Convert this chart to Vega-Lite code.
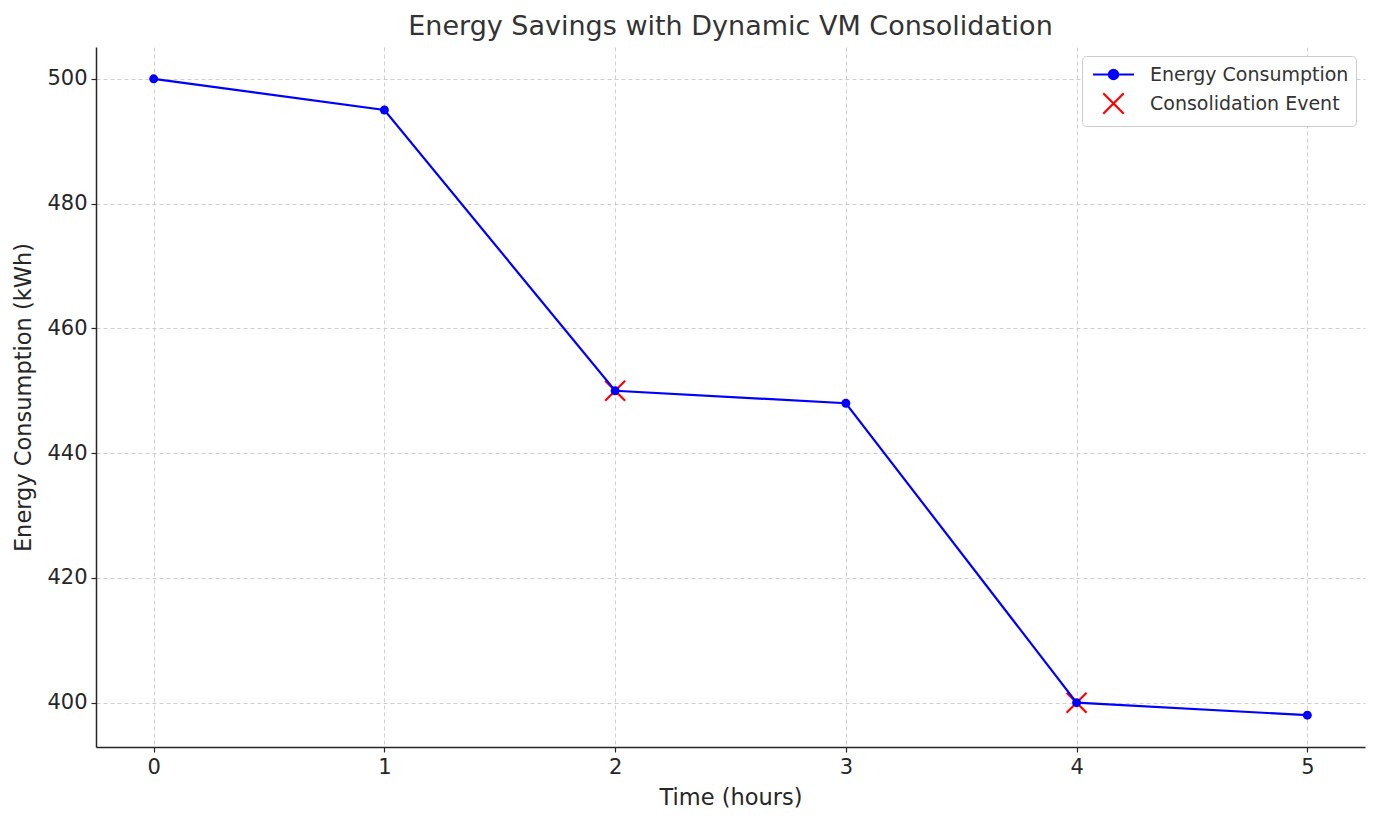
{
  "$schema": "https://vega.github.io/schema/vega-lite/v6.json",
  "width": 1269,
  "height": 700,
  "autosize": {"type": "none"},
  "padding": {"left": 96, "top": 47, "right": 13, "bottom": 75},
  "background": "white",
  "config": {
    "font": "DejaVu Sans",
    "view": {"stroke": null},
    "axis": {
      "labelFont": "DejaVu Sans",
      "titleFont": "DejaVu Sans",
      "labelFontSize": 21,
      "titleFontSize": 22.5,
      "labelColor": "#262626",
      "titleColor": "#262626",
      "titleFontWeight": "normal",
      "domainColor": "#262626",
      "domainWidth": 1.5,
      "tickColor": "#262626",
      "tickWidth": 1.2,
      "tickSize": 5,
      "gridColor": "#c8c8c8",
      "gridDash": [4, 3],
      "gridWidth": 0.9
    }
  },
  "title": {
    "text": "Energy Savings with Dynamic VM Consolidation",
    "font": "DejaVu Sans",
    "fontSize": 27,
    "fontWeight": "normal",
    "color": "#333333",
    "offset": 6
  },
  "data": {
    "values": [
      {"time": 0, "energy": 500, "series": "Energy Consumption"},
      {"time": 1, "energy": 495, "series": "Energy Consumption"},
      {"time": 2, "energy": 450, "series": "Energy Consumption"},
      {"time": 3, "energy": 448, "series": "Energy Consumption"},
      {"time": 4, "energy": 400, "series": "Energy Consumption"},
      {"time": 5, "energy": 398, "series": "Energy Consumption"},
      {"time": 2, "energy": 450, "series": "Consolidation Event"},
      {"time": 4, "energy": 400, "series": "Consolidation Event"}
    ]
  },
  "encoding": {
    "x": {
      "field": "time",
      "type": "quantitative",
      "scale": {"domain": [-0.25, 5.25], "nice": false, "zero": false},
      "axis": {"values": [0, 1, 2, 3, 4, 5], "title": "Time (hours)", "grid": true, "labelPadding": 4, "titlePadding": 9, "format": "d"}
    },
    "y": {
      "field": "energy",
      "type": "quantitative",
      "scale": {"domain": [392.9, 505.1], "nice": false, "zero": false},
      "axis": {"values": [400, 420, 440, 460, 480, 500], "title": "Energy Consumption (kWh)", "grid": true, "labelPadding": 4, "titlePadding": 11}
    }
  },
  "layer": [
    {
      "transform": [{"filter": "datum.series === 'Consolidation Event'"}],
      "mark": {"type": "point", "filled": false, "strokeWidth": 2.2, "size": 400, "opacity": 1},
      "encoding": {
        "color": {
          "field": "series",
          "type": "nominal",
          "scale": {"domain": ["Energy Consumption", "Consolidation Event"], "range": ["#0000ff", "#ff0000"]},
          "legend": {
            "title": null,
            "orient": "top-right",
            "offset": 9,
            "fillColor": "white",
            "strokeColor": "#cccccc",
            "cornerRadius": 4,
            "padding": 7,
            "symbolOffset": 13,
            "labelFont": "DejaVu Sans",
            "labelFontSize": 19,
            "labelColor": "#333333",
            "labelOffset": 25,
            "labelLimit": 400,
            "rowPadding": 3,
            "symbolSize": 420,
            "symbolStrokeWidth": 2.2,
            "encode": {
              "symbols": {
                "update": {
                  "size": {"value": 420},
                  "stroke": {"scale": "color", "field": "value"},
                  "fill": {"scale": "color", "field": "value"},
                  "strokeWidth": {"value": 2.2},
                  "opacity": {"value": 1}
                }
              }
            }
          }
        },
        "shape": {
          "field": "series",
          "type": "nominal",
          "scale": {"domain": ["Energy Consumption", "Consolidation Event"], "range": ["M-2,0H2M-0.45,0A0.45,0.45 0 1,0 0.45,0A0.45,0.45 0 1,0 -0.45,0", "M-1,-1L1,1M-1,1L1,-1"]}
        }
      }
    },
    {
      "transform": [{"filter": "datum.series === 'Energy Consumption'"}],
      "mark": {"type": "line", "color": "#0000ff", "strokeWidth": 2.2}
    },
    {
      "transform": [{"filter": "datum.series === 'Energy Consumption'"}],
      "mark": {"type": "point", "filled": true, "size": 80, "opacity": 1, "shape": "circle"},
      "encoding": {
        "color": {"field": "series", "type": "nominal"}
      }
    }
  ]
}
